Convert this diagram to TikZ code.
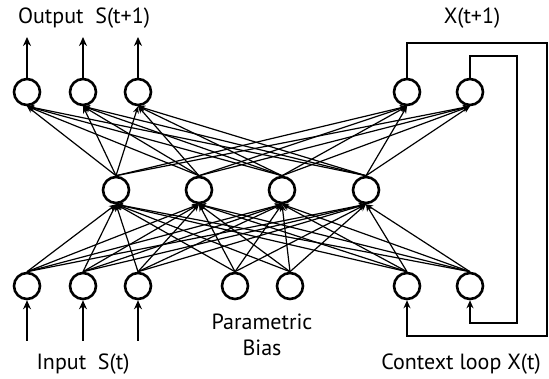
\documentclass[tikz,border=0pt]{standalone}
\usepackage{fontspec}
\setmainfont{PT Sans}
\usetikzlibrary{arrows.meta}
\begin{document}
\begin{tikzpicture}[x=1pt,y=-1pt,
  neuron/.style={circle,draw,line width=2.6pt,minimum size=26pt,inner sep=0pt},
  conn/.style={line width=1.2pt,-{Stealth[length=7pt,width=6pt]}},
  io/.style={line width=2.4pt,-{Stealth[length=9pt,width=8pt]}},
  loop/.style={line width=2.5pt},
  lbl/.style={font=\fontsize{22}{26}\selectfont,inner sep=0pt}]
\useasboundingbox (0,0) rectangle (549,379);
% bottom row
\node[neuron] (b1) at (27,286) {};
\node[neuron] (b2) at (83,286) {};
\node[neuron] (b3) at (138,286) {};
\node[neuron] (b4) at (235,286) {};
\node[neuron] (b5) at (290,286) {};
\node[neuron] (b6) at (407,286) {};
\node[neuron] (b7) at (470,286) {};
% middle row
\node[neuron] (m1) at (116,190) {};
\node[neuron] (m2) at (199,190) {};
\node[neuron] (m3) at (282,190) {};
\node[neuron] (m4) at (366,190) {};
% top row
\node[neuron] (t1) at (27,92) {};
\node[neuron] (t2) at (83,92) {};
\node[neuron] (t3) at (138,92) {};
\node[neuron] (t4) at (407,92) {};
\node[neuron] (t5) at (470,92) {};
% connections
\foreach \b in {b1,b2,b3,b4,b5,b6,b7}
  \foreach \m in {m1,m2,m3,m4}
    \draw[conn] (\b.north) -- (\m.south);
\foreach \m in {m1,m2,m3,m4}
  \foreach \t in {t1,t2,t3,t4,t5}
    \draw[conn] (\m.north) -- (\t.south);
% outputs
\coordinate (o1) at (27,37);
\coordinate (o2) at (83,37);
\coordinate (o3) at (138,37);
\draw[io] (t1.north) -- (o1);
\draw[io] (t2.north) -- (o2);
\draw[io] (t3.north) -- (o3);
% inputs
\coordinate (i1) at (27,341);
\coordinate (i2) at (83,341);
\coordinate (i3) at (138,341);
\draw[io] (i1) -- (b1.south);
\draw[io] (i2) -- (b2.south);
\draw[io] (i3) -- (b3.south);
% context loops
\draw[loop,-{Stealth[length=8pt,width=7pt]}] (t4.north) |- (547,43) |- (407,336) -- (b6.south);
\draw[loop,-{Stealth[length=8pt,width=7pt]}] (t5.north) |- (517,56) |- (470,323) -- (b7.south);
% labels
\node[lbl] (lo) at (84,18) {Output\ \ S(t+1)};
\node[lbl] (lx) at (472,18) {X(t+1)};
\node[lbl] (li) at (83,364) {Input\ \ S(t)};
\node[lbl,align=center] (lp) at (262,335) {Parametric\\Bias};
\node[lbl] (lc) at (461,364) {Context loop X(t)};
\end{tikzpicture}
\end{document}
